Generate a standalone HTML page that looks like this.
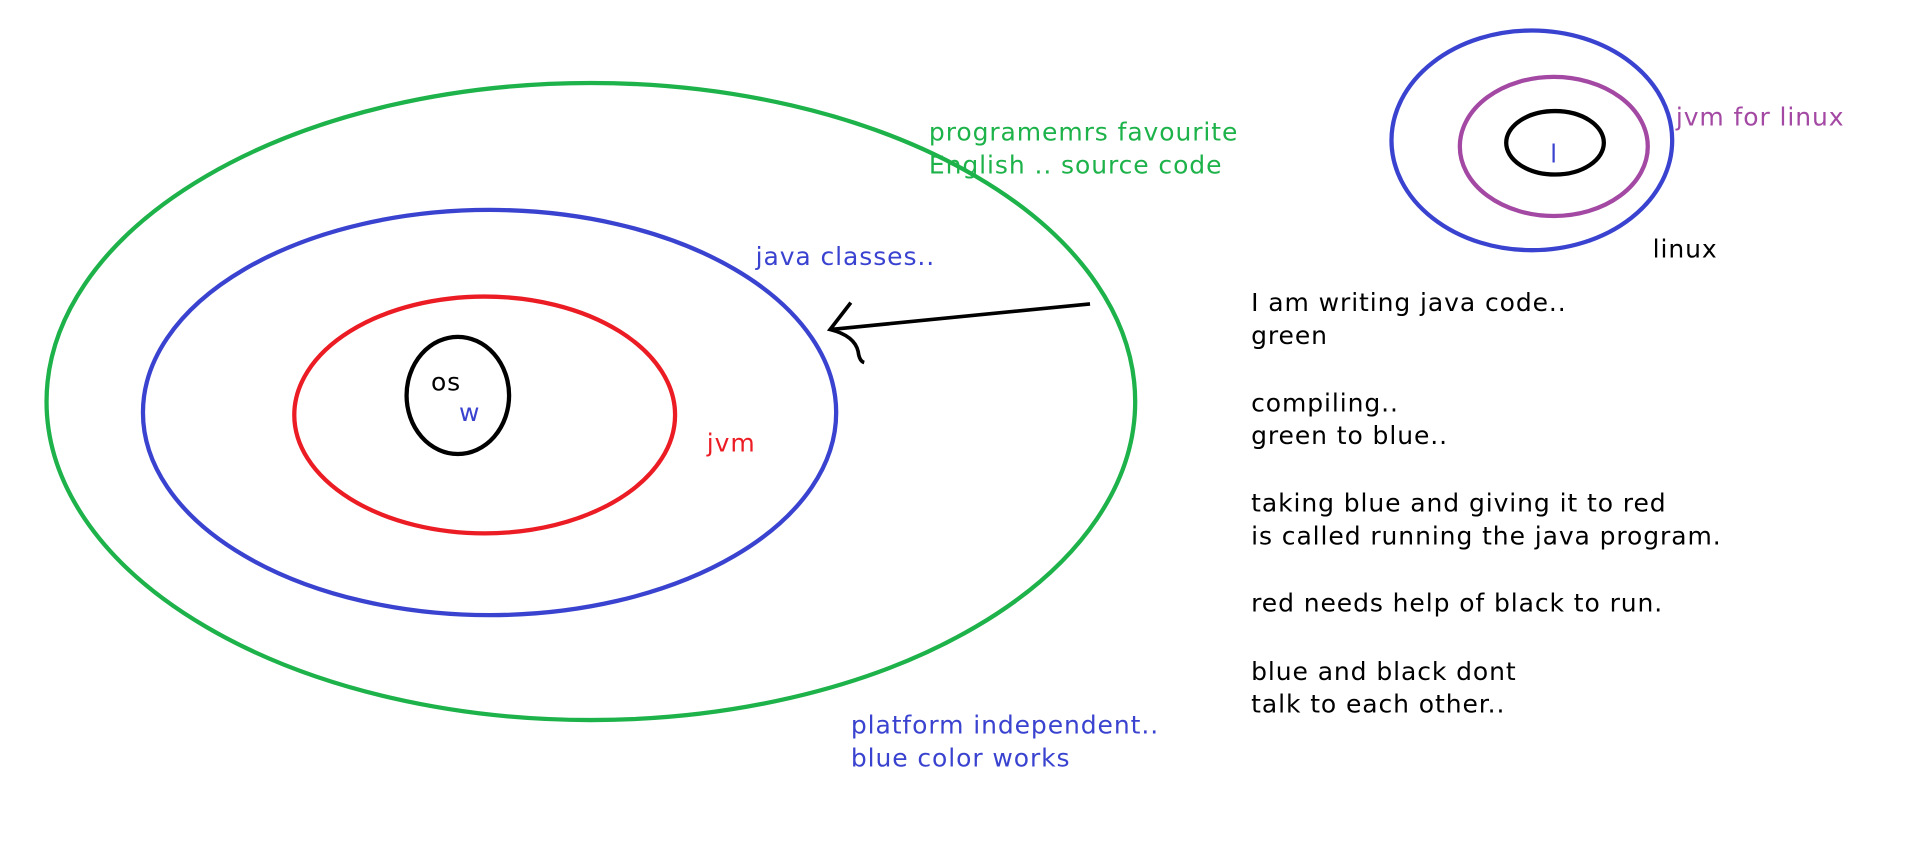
<!DOCTYPE html>
<html><head><meta charset="utf-8"><style>html,body{margin:0;padding:0;background:#fff;}svg{display:block}</style></head>
<body>
<svg width="1914" height="847" viewBox="0 0 1568 694" xmlns="http://www.w3.org/2000/svg" font-family="'DejaVu Sans', 'Liberation Sans', sans-serif" font-size="20.5" letter-spacing="0.75">
<rect width="1568" height="694" fill="#fff"/>
<g fill="none" stroke-width="3.5">
<ellipse cx="484" cy="329" rx="446" ry="261" stroke="#1db24a"/>
<ellipse cx="401" cy="338" rx="284" ry="166" stroke="#3a43d0"/>
<ellipse cx="397" cy="340" rx="156" ry="97" stroke="#ec1c24"/>
<ellipse cx="375" cy="324" rx="42" ry="48" stroke="#000"/>
<ellipse cx="1255" cy="115" rx="115" ry="90" stroke="#3a43d0"/>
<ellipse cx="1273" cy="120" rx="77" ry="57" stroke="#a349a4"/>
<ellipse cx="1274" cy="117" rx="40" ry="26" stroke="#000"/>
<path d="M893 249 L680 270 M697 248 L680 270 Q700 275 703 288 Q704 296 708 297" stroke="#000" stroke-width="3"/>
</g>
<g fill="#1db24a"><text x="761" y="115">programemrs favourite</text><text x="761" y="142">English .. source code</text></g>
<text x="619" y="217" fill="#3a43d0">java classes..</text>
<text x="579" y="370" fill="#ec1c24">jvm</text>
<text x="353" y="320" fill="#000">os</text>
<text x="376" y="345" fill="#3a43d0">w</text>
<g fill="#3a43d0"><text x="697" y="601">platform independent..</text><text x="697" y="628">blue color works</text></g>
<text x="1373" y="103" fill="#a349a4">jvm for linux</text>
<text x="1270" y="133" fill="#3a43d0">l</text>
<text x="1354" y="211" fill="#000">linux</text>
<g fill="#000">
<text x="1025" y="255">I am writing java code..</text>
<text x="1025" y="282">green</text>
<text x="1025" y="337">compiling..</text>
<text x="1025" y="364">green to blue..</text>
<text x="1025" y="419">taking blue and giving it to red</text>
<text x="1025" y="446">is called running the java program.</text>
<text x="1025" y="501">red needs help of black to run.</text>
<text x="1025" y="557">blue and black dont</text>
<text x="1025" y="584">talk to each other..</text>
</g>
</svg>
</body></html>
